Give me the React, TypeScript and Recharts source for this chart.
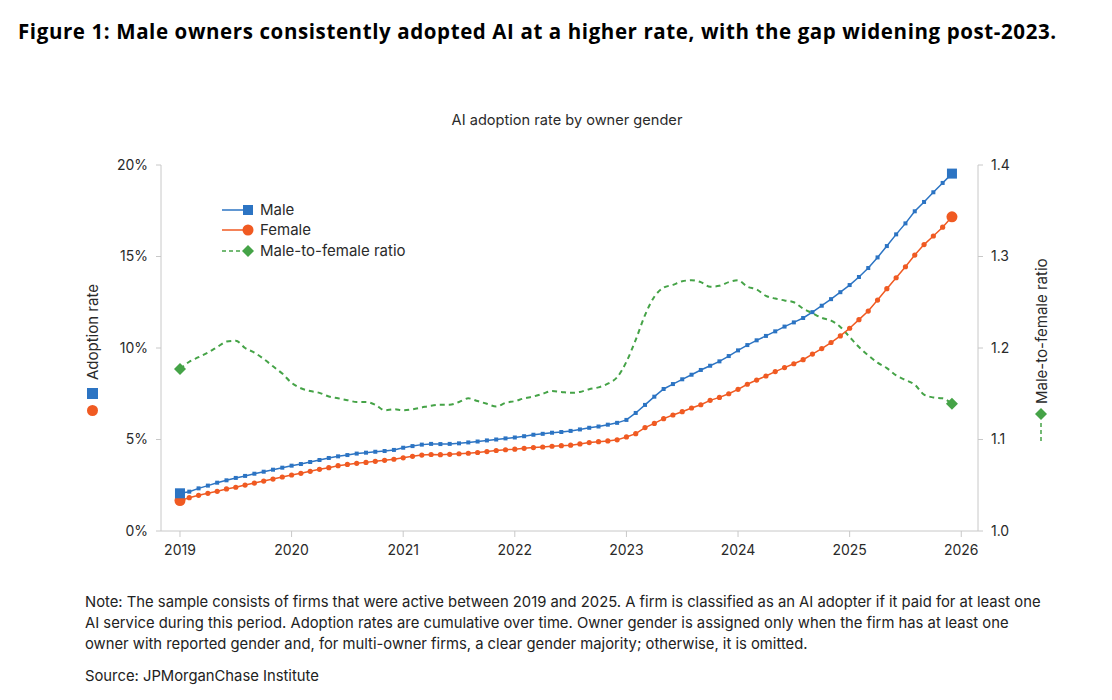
import React from "react";
import { LineChart, Line, XAxis, YAxis } from "recharts";

// monthly, Jan 2019 .. Dec 2025
const startYear = 2019;
const male = [
  2.06, 2.15, 2.33, 2.48, 2.64, 2.77, 2.9, 3.01, 3.13, 3.24, 3.35, 3.46,
  3.57, 3.66, 3.77, 3.88, 3.99, 4.08, 4.15, 4.23, 4.28, 4.33, 4.37, 4.43,
  4.55, 4.64, 4.72, 4.76, 4.75, 4.76, 4.79, 4.84, 4.89, 4.95, 5.0, 5.06,
  5.11, 5.18, 5.26, 5.31, 5.37, 5.41, 5.47, 5.55, 5.64, 5.71, 5.81, 5.91,
  6.07, 6.45, 6.89, 7.34, 7.76, 8.03, 8.29, 8.54, 8.8, 9.03, 9.27, 9.56,
  9.87, 10.16, 10.42, 10.66, 10.91, 11.17, 11.4, 11.64, 11.96, 12.31, 12.67, 13.05,
  13.44, 13.88, 14.37, 14.95, 15.57, 16.21, 16.81, 17.47, 17.98, 18.51, 19.02, 19.53,
];
const female = [
  1.66, 1.82, 1.95, 2.06, 2.17, 2.3, 2.39, 2.51, 2.62, 2.73, 2.84, 2.95,
  3.06, 3.15, 3.26, 3.37, 3.46, 3.57, 3.64, 3.7, 3.75, 3.81, 3.86, 3.92,
  4.0, 4.08, 4.15, 4.18, 4.17, 4.19, 4.22, 4.25, 4.29, 4.34, 4.4, 4.44,
  4.47, 4.52, 4.56, 4.59, 4.63, 4.66, 4.69, 4.76, 4.83, 4.88, 4.92, 4.98,
  5.14, 5.32, 5.65, 5.88, 6.14, 6.34, 6.52, 6.72, 6.9, 7.14, 7.3, 7.5,
  7.74, 8.02, 8.25, 8.47, 8.71, 8.93, 9.14, 9.36, 9.67, 9.97, 10.3, 10.66,
  11.08, 11.55, 12.02, 12.62, 13.24, 13.84, 14.44, 15.08, 15.65, 16.12, 16.6, 17.17,
];
const ratio = [
  1.177, 1.185, 1.19, 1.195, 1.201, 1.207, 1.208, 1.2, 1.195, 1.188, 1.18, 1.172,
  1.162, 1.156, 1.153, 1.151, 1.147, 1.145, 1.143, 1.141, 1.141, 1.138, 1.132, 1.133,
  1.132, 1.133, 1.135, 1.137, 1.138, 1.138, 1.141, 1.145, 1.142, 1.139, 1.136, 1.14,
  1.142, 1.145, 1.147, 1.15, 1.153, 1.152, 1.151, 1.152, 1.155, 1.157, 1.161, 1.168,
  1.185, 1.209, 1.236, 1.256, 1.266, 1.269, 1.273, 1.274, 1.272, 1.267, 1.268, 1.272,
  1.274, 1.267, 1.264, 1.257, 1.254, 1.252, 1.25, 1.243, 1.238, 1.233, 1.23, 1.223,
  1.212, 1.201, 1.192, 1.184, 1.178, 1.17, 1.165, 1.16, 1.149, 1.146, 1.145, 1.139,
];
const yearTicks = [2019, 2020, 2021, 2022, 2023, 2024, 2025, 2026];
const pctTicks = [0, 5, 10, 15, 20];
const ratioTicks = [1.0, 1.1, 1.2, 1.3, 1.4];

const noteLines = [
  "Note: The sample consists of firms that were active between 2019 and 2025. A firm is classified as an AI adopter if it paid for at least one",
  "AI service during this period. Adoption rates are cumulative over time. Owner gender is assigned only when the firm has at least one",
  "owner with reported gender and, for multi-owner firms, a clear gender majority; otherwise, it is omitted.",
];

const BLUE = "#2c74c3";
const ORANGE = "#f05a22";
const GREEN = "#45a347";
const AXIS = "#c8c8c8";
const TEXT = "#2a2a2a";
const FONT = "Inter, 'Liberation Sans', sans-serif";

const data = male.map((m, i) => ({
  t: startYear + i / 12,
  male: m,
  female: female[i],
  ratio: ratio[i],
}));
const last = data.length - 1;

const SquareDot = (p: any) => {
  const big = p.index === 0 || p.index === last;
  const s = big ? 10 : 4;
  return <rect key={p.key ?? p.index} x={p.cx - s / 2} y={p.cy - s / 2} width={s} height={s} fill={BLUE} />;
};
const CircleDot = (p: any) => {
  const big = p.index === 0 || p.index === last;
  return <circle key={p.key ?? p.index} cx={p.cx} cy={p.cy} r={big ? 5.5 : 2.6} fill={ORANGE} />;
};
const DiamondDot = (p: any) => {
  if (p.index !== 0 && p.index !== last) return <g key={p.key ?? p.index} />;
  const r = 6;
  return (
    <path
      key={p.key ?? p.index}
      d={`M${p.cx},${p.cy - r}L${p.cx + r},${p.cy}L${p.cx},${p.cy + r}L${p.cx - r},${p.cy}Z`}
      fill={GREEN}
    />
  );
};

const tick = { fill: TEXT, fontSize: 14, fontFamily: FONT };

export default function App() {
  return (
    <div style={{ position: "absolute", left: 0, top: 0, width: 1112, height: 700, background: "#fff", fontFamily: FONT, color: TEXT }}>
      <div
        style={{
          position: "absolute",
          left: 18,
          top: 17,
          fontFamily: "'Open Sans', Lato, sans-serif",
          fontWeight: 700,
          fontSize: 20.5,
          letterSpacing: 0.6,
          color: "#000",
          whiteSpace: "nowrap",
        }}
      >
        Figure 1: Male owners consistently adopted AI at a higher rate, with the gap widening post-2023.
      </div>
      <div style={{ position: "absolute", left: 0, width: 1134, top: 111, textAlign: "center", fontSize: 14.6 }}>
        AI adoption rate by owner gender
      </div>

      <div style={{ position: "absolute", left: 0, top: 0 }}>
        <LineChart width={1112} height={700} data={data} margin={{ top: 165, right: 0, bottom: 139, left: 0 }}>
          <XAxis
            dataKey="t"
            type="number"
            domain={[2018.83, 2026.15]}
            ticks={yearTicks}
            tickFormatter={(v) => String(Math.round(v))}
            tick={tick}
            stroke={AXIS}
            tickSize={6}
            tickMargin={8}
            height={30}
            interval={0}
          />
          <YAxis
            yAxisId="pct"
            domain={[0, 20]}
            ticks={pctTicks}
            tickFormatter={(v) => `${v}%`}
            tick={tick}
            stroke={AXIS}
            tickSize={5}
            tickMargin={8}
            width={161}
            interval={0}
          />
          <YAxis
            yAxisId="ratio"
            orientation="right"
            domain={[1.0, 1.4]}
            ticks={ratioTicks}
            tickFormatter={(v) => v.toFixed(1)}
            tick={tick}
            stroke={AXIS}
            tickSize={5}
            tickMargin={8}
            width={134}
            interval={0}
          />
          <Line
            yAxisId="ratio"
            dataKey="ratio"
            type="monotone"
            stroke={GREEN}
            strokeWidth={2}
            strokeDasharray="5 4"
            dot={DiamondDot}
            activeDot={false}
            isAnimationActive={false}
          />
          <Line
            yAxisId="pct"
            dataKey="female"
            type="linear"
            stroke={ORANGE}
            strokeWidth={1.5}
            dot={CircleDot}
            activeDot={false}
            isAnimationActive={false}
          />
          <Line
            yAxisId="pct"
            dataKey="male"
            type="linear"
            stroke={BLUE}
            strokeWidth={1.5}
            dot={SquareDot}
            activeDot={false}
            isAnimationActive={false}
          />
        </LineChart>
      </div>

      {/* legend and axis titles */}
      <svg style={{ position: "absolute", left: 0, top: 0 }} width={1112} height={700}>
        <g fontFamily={FONT} fontSize={15} fill={TEXT}>
          <line x1={222} y1={210} x2={246} y2={210} stroke={BLUE} strokeWidth={1.5} />
          <rect x={243} y={205} width={10} height={10} fill={BLUE} />
          <text x={260} y={215}>Male</text>
          <line x1={222} y1={230} x2={246} y2={230} stroke={ORANGE} strokeWidth={1.5} />
          <circle cx={248} cy={230} r={5.5} fill={ORANGE} />
          <text x={260} y={235}>Female</text>
          <line x1={222} y1={251} x2={246} y2={251} stroke={GREEN} strokeWidth={1.5} strokeDasharray="4 3" />
          <path d="M248,245L254,251L248,257L242,251Z" fill={GREEN} />
          <text x={260} y={256}>Male-to-female ratio</text>

          <text transform="translate(98,380) rotate(-90)">Adoption rate</text>
          <rect x={87} y={388} width={11} height={11} fill={BLUE} />
          <circle cx={92.5} cy={410.5} r={5.5} fill={ORANGE} />

          <text transform="translate(1047,404) rotate(-90)">Male-to-female ratio</text>
          <path d="M1041,408L1047,414L1041,420L1035,414Z" fill={GREEN} />
          <line x1={1041} y1={423} x2={1041} y2={441} stroke={GREEN} strokeWidth={1.5} strokeDasharray="4 3" />
        </g>
      </svg>

      <div style={{ position: "absolute", left: 85, top: 592, fontSize: 14.8, lineHeight: "21px", color: "#222" }}>
        {noteLines.map((l) => (
          <div key={l} style={{ whiteSpace: "nowrap" }}>{l}</div>
        ))}
        <div style={{ marginTop: 11, whiteSpace: "nowrap" }}>Source: JPMorganChase Institute</div>
      </div>
    </div>
  );
}
